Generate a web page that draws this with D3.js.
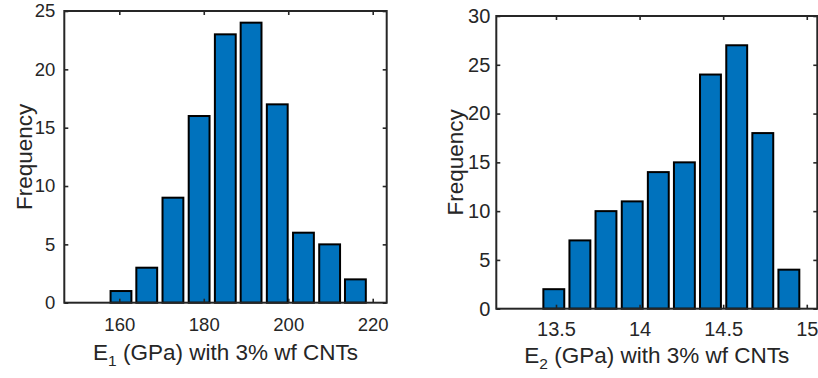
<!DOCTYPE html>
<html>
<head>
<meta charset="utf-8">
<script src="https://cdn.jsdelivr.net/npm/d3@7/dist/d3.min.js"></script>
<style>
  body { margin: 0; background: #fff; }
  svg { display: block; font-family: "Liberation Sans", Arial, sans-serif; }
  .tick text { fill: #262626; }
</style>
</head>
<body>
<div id="chart"></div>
<script>
// E1 histogram (GPa)
var e1Centers = [160.4, 166.5, 172.7, 178.9, 185.1, 191.2, 197.4, 203.6, 209.8, 215.9];
var e1Counts  = [1, 3, 9, 16, 23, 24, 17, 6, 5, 2];
var e1XTicks  = [160, 180, 200, 220];
var e1YTicks  = [0, 5, 10, 15, 20, 25];

// E2 histogram (GPa)
var e2Centers = [13.487, 13.643, 13.799, 13.956, 14.112, 14.268, 14.424, 14.581, 14.737, 14.893];
var e2Counts  = [2, 7, 10, 11, 14, 15, 24, 27, 18, 4];
var e2XTicks  = [13.5, 14, 14.5, 15];
var e2YTicks  = [0, 5, 10, 15, 20, 25, 30];

var W = 818, H = 378;
var ink = "#262626", barFill = "#0072BD";

var svg = d3.select("#chart").append("svg")
    .attr("width", W).attr("height", H);

var panels = [
  { centers: e1Centers, counts: e1Counts, xTicks: e1XTicks, yTicks: e1YTicks,
    xDom: [146.98, 223.31], yDom: [0, 25],
    left: 64.3, right: 386.7, top: 11, bottom: 302.7,
    tickFont: 18.5, xPad: 15.5, yPad: 9, sub: "1",
    ylabX: 31.5, xlabY: 360, fmt: d3.format("d") },
  { centers: e2Centers, counts: e2Counts, xTicks: e2XTicks, yTicks: e2YTicks,
    xDom: [13.143, 15.063], yDom: [0, 30],
    left: 496.3, right: 817.3, top: 16, bottom: 308.7,
    tickFont: 20, xPad: 13, yPad: 6, sub: "2",
    ylabX: 463, xlabY: 363, fmt: function(d) { return String(d); } }
];

panels.forEach(function(p) {
  var x = d3.scaleLinear().domain(p.xDom).range([p.left, p.right]);
  var y = d3.scaleLinear().domain(p.yDom).range([p.bottom, p.top]);
  var n = p.centers.length;
  var binW = (p.centers[n - 1] - p.centers[0]) / (n - 1);
  var bw = binW * 0.8;

  var g = svg.append("g");

  // bars
  g.append("g").selectAll("rect")
    .data(p.centers.map(function(c, i) { return { c: c, v: p.counts[i] }; }))
    .enter().append("rect")
      .attr("x", function(d) { return x(d.c - bw / 2); })
      .attr("width", function(d) { return x(d.c + bw / 2) - x(d.c - bw / 2); })
      .attr("y", function(d) { return y(d.v); })
      .attr("height", function(d) { return y(0) - y(d.v); })
      .attr("fill", barFill)
      .attr("stroke", "#000")
      .attr("stroke-width", 2);

  // axes, ticks pointing inward on all four sides
  var axB = g.append("g").attr("transform", "translate(0," + p.bottom + ")")
    .call(d3.axisBottom(x).tickValues(p.xTicks).tickFormat(p.fmt)
      .tickSizeInner(-4).tickSizeOuter(0).tickPadding(p.xPad));
  var axT = g.append("g").attr("transform", "translate(0," + p.top + ")")
    .call(d3.axisTop(x).tickValues(p.xTicks).tickFormat("")
      .tickSizeInner(-4).tickSizeOuter(0));
  var axL = g.append("g").attr("transform", "translate(" + p.left + ",0)")
    .call(d3.axisLeft(y).tickValues(p.yTicks).tickFormat(d3.format("d"))
      .tickSizeInner(-4).tickSizeOuter(0).tickPadding(p.yPad));
  var axR = g.append("g").attr("transform", "translate(" + p.right + ",0)")
    .call(d3.axisRight(y).tickValues(p.yTicks).tickFormat("")
      .tickSizeInner(-4).tickSizeOuter(0));

  [axB, axT, axL, axR].forEach(function(a) {
    a.select(".domain").remove();
    a.selectAll(".tick line").attr("stroke", ink).attr("stroke-width", 1.6);
    a.selectAll(".tick text").attr("font-size", p.tickFont).attr("fill", ink);
  });

  // box
  g.append("rect")
    .attr("x", p.left).attr("y", p.top)
    .attr("width", p.right - p.left).attr("height", p.bottom - p.top)
    .attr("fill", "none").attr("stroke", ink).attr("stroke-width", 2);

  // x label with subscript
  var xl = g.append("text")
    .attr("x", (p.left + p.right) / 2).attr("y", p.xlabY)
    .attr("text-anchor", "middle")
    .attr("font-size", 22.5).attr("fill", ink);
  xl.append("tspan").text("E");
  xl.append("tspan").attr("font-size", 15.5).attr("dy", 6).text(p.sub);
  xl.append("tspan").attr("dy", -6).text(" (GPa) with 3% wf CNTs");

  // y label
  g.append("text")
    .attr("transform", "translate(" + p.ylabX + "," + ((p.top + p.bottom) / 2) + ") rotate(-90)")
    .attr("text-anchor", "middle")
    .attr("font-size", 22.5).attr("fill", ink)
    .text("Frequency");
});
</script>
</body>
</html>
